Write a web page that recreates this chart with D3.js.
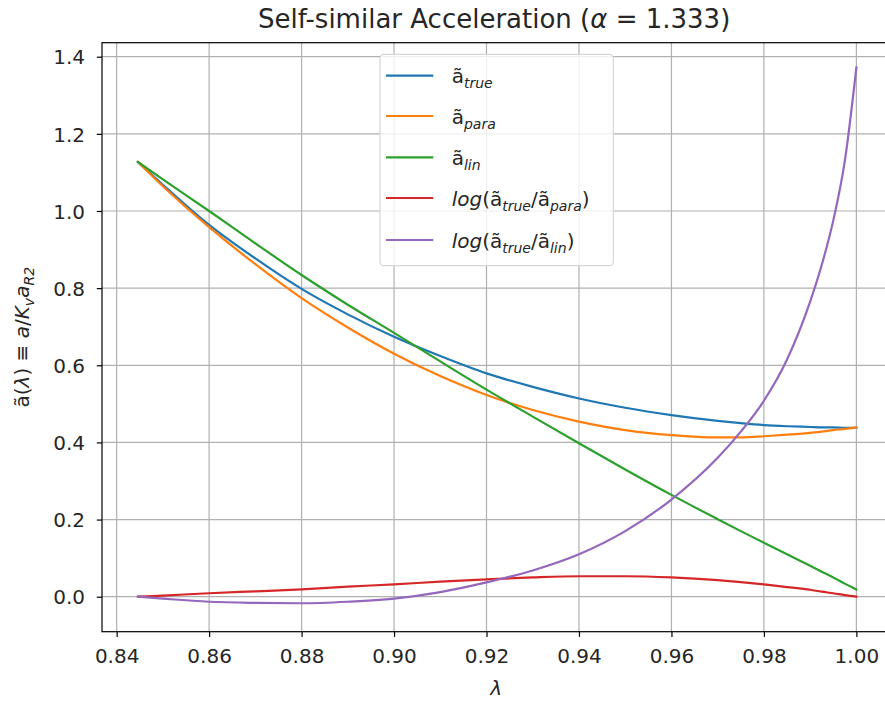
<!DOCTYPE html>
<head>
    <meta charset="utf-8">
    <title>Self-similar Acceleration</title>
    <script src="https://d3js.org/d3.v7.min.js"></script>
    <style>
        body { margin: 0; background: #fff; }
        text { font-family: "DejaVu Sans", sans-serif; fill: #262626; }
        .grid line { stroke: #b0b0b0; stroke-width: 1.2; }
        .curve { fill: none; stroke-width: 2.2; stroke-linejoin: round; stroke-linecap: square; }
    </style>
</head>
<body>
<script>
    // values
    var lambda      = [0.8446, 0.85, 0.86, 0.87, 0.88, 0.89, 0.90, 0.91, 0.92, 0.93, 0.94, 0.95, 0.96, 0.97, 0.975, 0.98, 0.985, 0.99, 0.9925, 0.995, 0.9975, 1.0];
    var aTrue       = [1.127, 1.068, 0.964, 0.877, 0.798, 0.732, 0.674, 0.624, 0.579, 0.544, 0.514, 0.490, 0.471, 0.456, 0.450, 0.445, 0.442, 0.440, 0.439, 0.439, 0.438, 0.438];
    var aPara       = [1.127, 1.064, 0.958, 0.862, 0.774, 0.698, 0.630, 0.572, 0.523, 0.484, 0.454, 0.432, 0.419, 0.413, 0.413, 0.416, 0.420, 0.425, 0.428, 0.432, 0.435, 0.439];
    var aLin        = [1.127, 1.082, 1.000, 0.916, 0.834, 0.757, 0.684, 0.610, 0.537, 0.467, 0.398, 0.330, 0.264, 0.201, 0.170, 0.140, 0.110, 0.080, 0.065, 0.050, 0.034, 0.0186];
    var logTruePara = [0.000, 0.003, 0.009, 0.014, 0.019, 0.026, 0.032, 0.039, 0.045, 0.050, 0.053, 0.053, 0.050, 0.043, 0.038, 0.032, 0.025, 0.018, 0.013, 0.009, 0.004, 0.000];
    var logTrueLin  = [0.000, -0.005, -0.013, -0.016, -0.017, -0.013, -0.005, 0.012, 0.037, 0.068, 0.110, 0.170, 0.252, 0.360, 0.428, 0.508, 0.615, 0.765, 0.860, 0.975, 1.130, 1.372];

    var xTicks = [0.84, 0.86, 0.88, 0.90, 0.92, 0.94, 0.96, 0.98, 1.00];
    var yTicks = [0.0, 0.2, 0.4, 0.6, 0.8, 1.0, 1.2, 1.4];

    var series = [
        {values: aTrue, color: "#1f77b4", label: [{t: "ã"}, {t: "true", sub: true, it: true}]},
        {values: aPara, color: "#ff7f0e", label: [{t: "ã"}, {t: "para", sub: true, it: true}]},
        {values: aLin, color: "#2ca02c", label: [{t: "ã"}, {t: "lin", sub: true, it: true}]},
        {values: logTruePara, color: "#d62728", label: [{t: "log", it: true}, {t: "(ã"}, {t: "true", sub: true, it: true}, {t: "/ã"}, {t: "para", sub: true, it: true}, {t: ")"}]},
        {values: logTrueLin, color: "#9467bd", label: [{t: "log", it: true}, {t: "(ã"}, {t: "true", sub: true, it: true}, {t: "/ã"}, {t: "lin", sub: true, it: true}, {t: ")"}]}
    ];

    var width = 885, height = 705;
    var plotLeft = 102, plotTop = 42.7, plotBottom = 631.7;

    // matplotlib style 5% margins on x
    var xmin = d3.min(lambda), xmax = d3.max(lambda), pad = (xmax - xmin) * 0.05;
    var x = d3.scaleLinear()
            .domain([xmin - pad, xmax + pad])
            .range([plotLeft, plotLeft + 790.3]);
    var y = d3.scaleLinear()
            .domain([-0.0907, 1.4363])
            .range([plotBottom, plotTop]);
    var plotRight = x.range()[1];

    var svg = d3.select("body").append("svg")
            .attr("width", width)
            .attr("height", height);

    // write text made of plain / italic / subscript pieces
    function richText(sel, parts, subSize, shift) {
        var down = false;
        parts.forEach(function (p) {
            var ts = sel.append("tspan").text(p.t);
            if (p.it) ts.attr("font-style", "italic");
            if (p.sub) {
                ts.attr("font-size", subSize);
                if (!down) { ts.attr("dy", shift); down = true; }
            } else if (down) {
                ts.attr("dy", -shift);
                down = false;
            }
        });
    }

    // grid
    var grid = svg.append("g").attr("class", "grid");
    grid.selectAll("line.gx").data(xTicks).enter().append("line")
            .attr("x1", function (d) { return x(d); })
            .attr("x2", function (d) { return x(d); })
            .attr("y1", plotTop).attr("y2", plotBottom);
    grid.selectAll("line.gy").data(yTicks).enter().append("line")
            .attr("x1", plotLeft).attr("x2", plotRight)
            .attr("y1", function (d) { return y(d); })
            .attr("y2", function (d) { return y(d); });

    // curves
    var line = d3.line()
            .x(function (d, i) { return x(lambda[i]); })
            .y(function (d) { return y(d); })
            .curve(d3.curveMonotoneX);

    svg.append("g").selectAll("path")
            .data(series)
            .enter().append("path")
            .attr("class", "curve")
            .attr("d", function (d) { return line(d.values); })
            .style("stroke", function (d) { return d.color; });

    // axes
    var xAxis = svg.append("g")
            .attr("transform", "translate(0," + plotBottom + ")")
            .call(d3.axisBottom(x).tickValues(xTicks).tickFormat(d3.format(".2f")).tickSizeInner(5.2).tickSizeOuter(0).tickPadding(5));
    var yAxis = svg.append("g")
            .attr("transform", "translate(" + plotLeft + ",0)")
            .call(d3.axisLeft(y).tickValues(yTicks).tickFormat(d3.format(".1f")).tickSizeInner(5.2).tickSizeOuter(0).tickPadding(5));
    [xAxis, yAxis].forEach(function (a) {
        a.select(".domain").remove();
        a.selectAll(".tick line").attr("stroke", "#000").attr("stroke-width", 1.2);
        a.selectAll(".tick text").attr("font-size", 20).attr("font-family", "DejaVu Sans").attr("fill", "#262626");
    });
    xAxis.selectAll(".tick text").attr("dy", null).attr("y", 31);
    yAxis.selectAll(".tick text").attr("dy", "0.36em").attr("x", -17);

    // spines
    svg.append("rect")
            .attr("x", plotLeft).attr("y", plotTop)
            .attr("width", plotRight - plotLeft).attr("height", plotBottom - plotTop)
            .attr("fill", "none").attr("stroke", "#000").attr("stroke-width", 1.2);

    // legend
    var legendY = [75.7, 116, 157.3, 198, 240];
    var legend = svg.append("g");
    legend.append("rect")
            .attr("x", 380).attr("y", 54.3)
            .attr("width", 233.3).attr("height", 211.4)
            .attr("rx", 4)
            .attr("fill", "#fff").attr("fill-opacity", 0.8)
            .attr("stroke", "#d6d6d6").attr("stroke-width", 1.2);
    var item = legend.selectAll("g.item")
            .data(series)
            .enter().append("g")
            .attr("transform", function (d, i) { return "translate(0," + legendY[i] + ")"; });
    item.append("line")
            .attr("x1", 386).attr("x2", 433.3)
            .attr("stroke", function (d) { return d.color; })
            .attr("stroke-width", 2.2);
    item.append("text")
            .attr("x", 451.7).attr("y", 7.5)
            .attr("font-size", 20)
            .each(function (d) { richText(d3.select(this), d.label, 14, 5); });

    // title and labels
    var title = svg.append("text")
            .attr("x", (plotLeft + plotRight) / 2 - 3).attr("y", 28)
            .attr("text-anchor", "middle")
            .attr("font-size", 26);
    richText(title, [{t: "Self-similar Acceleration ("}, {t: "α", it: true}, {t: " = 1.333)"}], 16, 5);

    svg.append("text")
            .attr("x", (plotLeft + plotRight) / 2 - 1).attr("y", 695)
            .attr("text-anchor", "middle")
            .attr("font-size", 20)
            .attr("font-style", "italic")
            .text("λ");

    var ylab = svg.append("text")
            .attr("transform", "translate(29," + (plotTop + plotBottom) / 2 + ") rotate(-90)")
            .attr("text-anchor", "middle")
            .attr("font-size", 20);
    richText(ylab, [{t: "ã("}, {t: "λ", it: true}, {t: ") ≡ "}, {t: "a", it: true}, {t: "/"}, {t: "K", it: true}, {t: "v", sub: true, it: true}, {t: "a", it: true}, {t: "R2", sub: true, it: true}], 14, 5);
</script>
</body>
